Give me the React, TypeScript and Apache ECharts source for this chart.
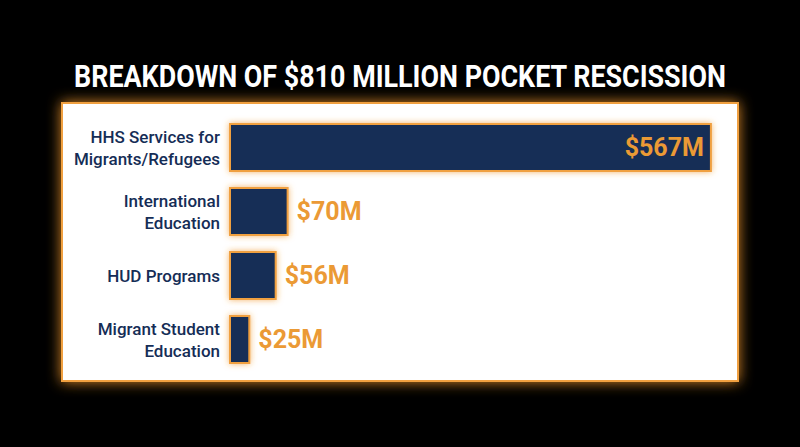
import React, { useEffect, useRef } from "react";
import * as echarts from "echarts";

const titleText = "BREAKDOWN OF $810 MILLION POCKET RESCISSION";
const categories = [
  "HHS Services for\nMigrants/Refugees",
  "International\nEducation",
  "HUD Programs",
  "Migrant Student\nEducation",
];
const values = [567, 70, 56, 25];
const xMax = 600;

const NAVY = "#152d56";
const ORANGE = "#eb9a35";
const FONT = 'Roboto, "Liberation Sans", sans-serif';

export default function App() {
  const ref = useRef<HTMLDivElement>(null);
  useEffect(() => {
    document.body.style.margin = "0";
    document.body.style.background = "#000";
    const chart = echarts.init(ref.current!, null, { renderer: "svg" });
    chart.setOption({
      animation: false,
      backgroundColor: "#000000",
      graphic: [
        {
          type: "rect",
          z: -10,
          shape: { x: 62, y: 103, width: 676, height: 278 },
          style: {
            fill: "#ffffff",
            stroke: "#f0a040",
            lineWidth: 2,
            shadowBlur: 14,
            shadowColor: "rgba(240,150,40,0.9)",
          },
        },
        {
          type: "text",
          x: 400,
          y: 76,
          scaleX: 0.84,
          style: {
            text: titleText,
            x: 0,
            y: 0,
            fill: "#ffffff",
            font: `bold 32px ${FONT}`,
            textAlign: "center",
            textVerticalAlign: "middle",
          },
        },
      ],
      grid: { left: 229, top: 115.5, height: 256, width: 511, containLabel: false },
      xAxis: {
        type: "value",
        min: 0,
        max: xMax,
        show: false,
      },
      yAxis: {
        type: "category",
        data: categories,
        inverse: true,
        axisLine: { show: false },
        axisTick: { show: false },
        axisLabel: {
          color: NAVY,
          fontFamily: FONT,
          fontWeight: 500,
          fontSize: 17,
          lineHeight: 22,
          margin: 9,
          align: "right",
        },
      },
      series: [
        {
          type: "bar",
          barWidth: 49,
          data: values.map((v, i) => ({
            value: v,
            label: {
              show: true,
              position: i === 0 ? "insideRight" : "right",
              distance: 8,
              formatter: "${c}M",
              color: ORANGE,
              fontFamily: FONT,
              fontWeight: "bold",
              fontSize: 25,
            },
          })),
          itemStyle: {
            color: NAVY,
            borderColor: "#f0a040",
            borderWidth: 2,
            shadowBlur: 6,
            shadowColor: "rgba(240,150,40,0.7)",
          },
        },
      ],
    });
    return () => chart.dispose();
  }, []);
  return <div ref={ref} style={{ width: 800, height: 447, background: "#000" }} />;
}
